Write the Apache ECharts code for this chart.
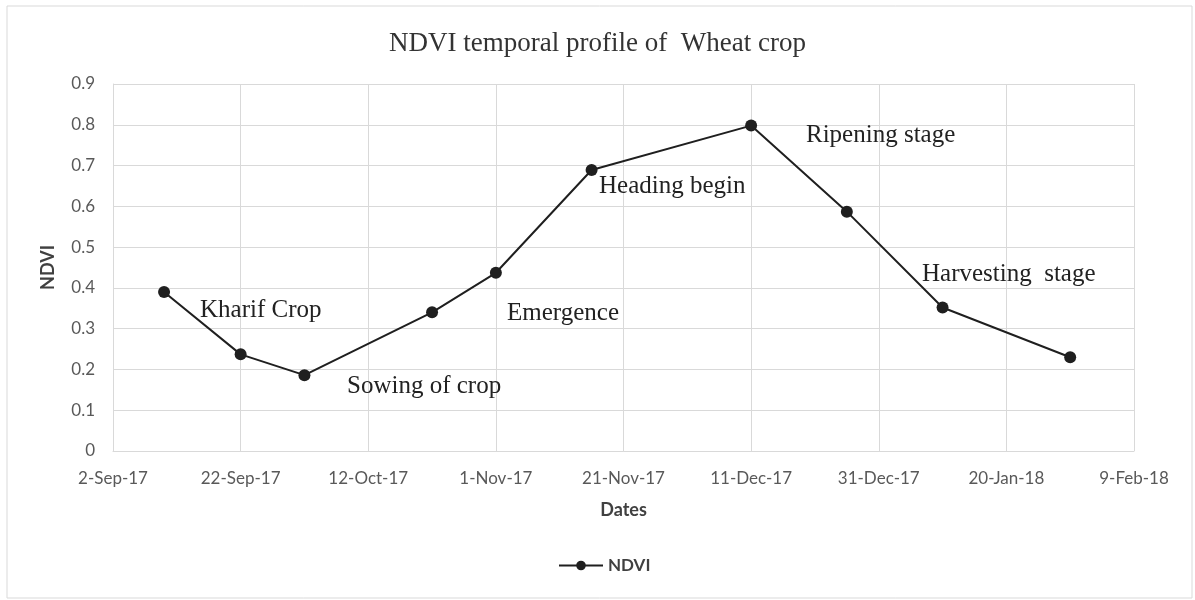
<!DOCTYPE html>
<html>
<head>
<meta charset="utf-8">
<title>NDVI temporal profile of Wheat crop</title>
<script src="https://cdn.jsdelivr.net/npm/echarts@6/dist/echarts.min.js"></script>
<style>
  html, body { margin: 0; padding: 0; background: #fff; }
  #chart { width: 1195px; height: 600px; }
</style>
</head>
<body>
<div id="chart"></div>
<script>
// dates of the observations and their NDVI values
var startDate = '2017-09-02';
var obsDates = ['2017-09-10', '2017-09-22', '2017-10-02', '2017-10-22', '2017-11-01',
                '2017-11-16', '2017-12-11', '2017-12-26', '2018-01-10', '2018-01-30'];
var ndviValues = [0.39, 0.237, 0.186, 0.34, 0.437, 0.689, 0.798, 0.587, 0.352, 0.23];

var xTickLabels = ['2-Sep-17', '22-Sep-17', '12-Oct-17', '1-Nov-17', '21-Nov-17',
                   '11-Dec-17', '31-Dec-17', '20-Jan-18', '9-Feb-18'];
var yTicks = [0, 0.1, 0.2, 0.3, 0.4, 0.5, 0.6, 0.7, 0.8, 0.9];

// crop stage notes
var stageNotes = [
    { text: 'Kharif Crop', x: 200, y: 310 },
    { text: 'Sowing of crop', x: 347, y: 386 },
    { text: 'Emergence', x: 507, y: 313 },
    { text: 'Heading begin', x: 599, y: 186 },
    { text: 'Ripening stage', x: 806, y: 135 },
    { text: 'Harvesting  stage', x: 922, y: 274 }
];

var DAY = 86400000;
function dayOffset(d) {
    return Math.round((Date.parse(d) - Date.parse(startDate)) / DAY);
}

var seriesData = obsDates.map(function (d, i) {
    return [dayOffset(d), ndviValues[i]];
});

var axisText = { color: '#595959', fontSize: 17, fontFamily: 'Lato' };
var nameText = { color: '#404040', fontSize: 18, fontWeight: 'bold', fontFamily: 'Lato' };
var gridColor = '#d9d9d9';

var chart = echarts.init(document.getElementById('chart'));

var graphics = [{
    type: 'rect',
    shape: { x: 7, y: 6, width: 1185, height: 592 },
    style: { fill: 'none', stroke: gridColor, lineWidth: 1 },
    silent: true
}];
stageNotes.forEach(function (n) {
    graphics.push({
        type: 'text',
        x: n.x,
        y: n.y,
        style: {
            text: n.text,
            fill: '#222',
            font: '25px "Liberation Serif"',
            verticalAlign: 'middle'
        },
        z: 10
    });
});

chart.setOption({
    animation: false,
    title: {
        text: 'NDVI temporal profile of  Wheat crop',
        left: 'center',
        top: 25,
        textStyle: {
            fontFamily: 'Liberation Serif',
            fontWeight: 'normal',
            fontSize: 27,
            color: '#333'
        }
    },
    legend: {
        bottom: 21,
        left: 553,
        itemWidth: 44,
        itemHeight: 12,
        itemGap: 6,
        textStyle: { color: '#404040', fontSize: 17, fontWeight: 'bold', fontFamily: 'Lato' },
        data: ['NDVI']
    },
    grid: {
        left: 113,
        right: 61,
        top: 84,
        bottom: 149
    },
    xAxis: {
        type: 'value',
        min: 0,
        max: 160,
        interval: 20,
        name: 'Dates',
        nameLocation: 'middle',
        nameGap: 50,
        nameTextStyle: nameText,
        axisLine: { show: true, lineStyle: { color: gridColor, width: 1 } },
        axisTick: { show: false },
        axisLabel: Object.assign({
            margin: 19,
            formatter: function (v) { return xTickLabels[Math.round(v / 20)]; }
        }, axisText),
        splitLine: { show: true, lineStyle: { color: gridColor, width: 1 } }
    },
    yAxis: {
        type: 'value',
        min: yTicks[0],
        max: yTicks[yTicks.length - 1],
        interval: 0.1,
        name: 'NDVI',
        nameLocation: 'middle',
        nameGap: 56,
        nameTextStyle: nameText,
        axisLine: { show: true, lineStyle: { color: gridColor, width: 1 } },
        axisTick: { show: false },
        axisLabel: Object.assign({
            margin: 18,
            formatter: function (v) { return String(Math.round(v * 10) / 10); }
        }, axisText),
        splitLine: { show: true, lineStyle: { color: gridColor, width: 1 } }
    },
    series: [{
        name: 'NDVI',
        type: 'line',
        data: seriesData,
        symbol: 'circle',
        symbolSize: 12,
        lineStyle: { color: '#1f1f1f', width: 2 },
        itemStyle: { color: '#1f1f1f' },
        z: 5
    }],
    graphic: graphics
});
</script>
</body>
</html>
